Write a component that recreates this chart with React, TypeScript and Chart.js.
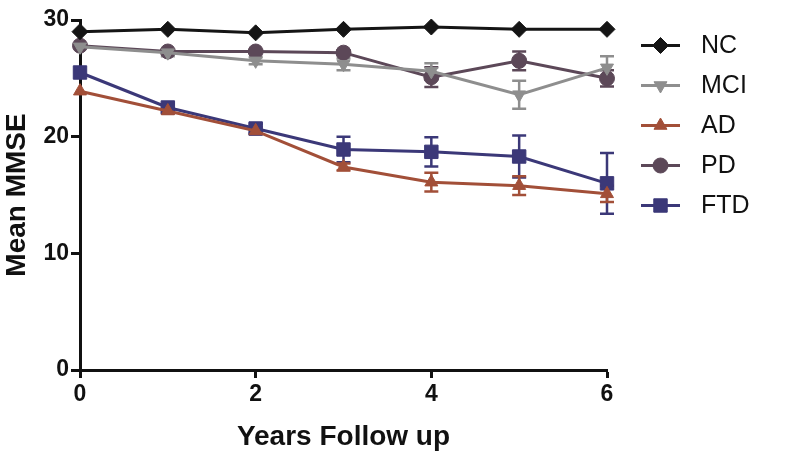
import React, { useEffect, useRef } from "react";
import { Chart, registerables } from "chart.js";
import { drawPoint } from "chart.js/helpers";

Chart.register(...registerables);

const YEARS = [0, 1, 2, 3, 4, 5, 6];
const LABELS = ["NC", "MCI", "AD", "PD", "FTD"];
const NC = [29.0, 29.2, 28.9, 29.2, 29.4, 29.2, 29.2];
const MCI = [27.7, 27.2, 26.5, 26.2, 25.6, 23.6, 25.9];
const AD = [23.9, 22.2, 20.5, 17.4, 16.1, 15.8, 15.1];
const PD = [27.8, 27.3, 27.3, 27.2, 25.1, 26.5, 25.0];
const FTD = [25.5, 22.5, 20.7, 18.9, 18.7, 18.3, 16.0];

const NC_ERR = [0, 0, 0, 0, 0, 0, 0];
const MCI_ERR = [0, 0.3, 0.3, 0.5, 0.7, 1.2, 1.0];
const AD_ERR = [0, 0.2, 0.3, 0.3, 0.8, 0.8, 0.7];
const PD_ERR = [0, 0, 0, 0.2, 0.85, 0.8, 0.7];
const FTD_ERR = [0, 0.3, 0.4, 1.1, 1.25, 1.8, 2.6];

const Y_TICKS = [0, 10, 20, 30];
const X_TICKS = [0, 2, 4, 6];

const FONT = "'Liberation Sans', Arial, Helvetica, sans-serif";
const COLORS = ["#151515", "#8e8e8e", "#a24f38", "#5c4858", "#3b3878"];
const STYLES = [
  { pointStyle: "rectRot", radius: 8, rotation: 0 },
  { pointStyle: "triangle", radius: 7.5, rotation: 180 },
  { pointStyle: "triangle", radius: 7.5, rotation: 0 },
  { pointStyle: "circle", radius: 7.5, rotation: 0 },
  { pointStyle: "rect", radius: 9.5, rotation: 0 },
];
const SERIES = [NC, MCI, AD, PD, FTD];
const ERRORS = [NC_ERR, MCI_ERR, AD_ERR, PD_ERR, FTD_ERR];

const errorBarPlugin = {
  id: "errorBars",
  beforeDatasetsDraw(chart: any) {
    const ctx = chart.ctx;
    const xs = chart.scales.x;
    const ys = chart.scales.y;
    ctx.save();
    for (let i = SERIES.length - 1; i >= 0; i--) {
      const vals = SERIES[i];
      const errs = ERRORS[i];
      ctx.strokeStyle = COLORS[i];
      ctx.lineWidth = 2.5;
      for (let j = 0; j < vals.length; j++) {
        const e = errs[j];
        if (!e) continue;
        const px = xs.getPixelForValue(YEARS[j]);
        const top = ys.getPixelForValue(vals[j] + e);
        const bot = ys.getPixelForValue(vals[j] - e);
        ctx.beginPath();
        ctx.moveTo(px, top);
        ctx.lineTo(px, bot);
        ctx.moveTo(px - 7, top);
        ctx.lineTo(px + 7, top);
        ctx.moveTo(px - 7, bot);
        ctx.lineTo(px + 7, bot);
        ctx.stroke();
      }
    }
    ctx.restore();
  },
};

const legendPlugin = {
  id: "customLegend",
  afterDraw(chart: any) {
    const ctx = chart.ctx;
    ctx.save();
    chart.data.datasets.forEach((ds: any, i: number) => {
      const cy = 45.5 + i * 40;
      ctx.strokeStyle = COLORS[i];
      ctx.fillStyle = COLORS[i];
      ctx.lineWidth = 3;
      ctx.beginPath();
      ctx.moveTo(641, cy);
      ctx.lineTo(680, cy);
      ctx.stroke();
      ctx.lineWidth = 1;
      drawPoint(
        ctx,
        {
          pointStyle: STYLES[i].pointStyle,
          rotation: STYLES[i].rotation,
          radius: STYLES[i].radius,
          borderWidth: 1,
        } as any,
        660.5,
        cy
      );
      ctx.fillStyle = "#111";
      ctx.font = `25px ${FONT}`;
      ctx.textBaseline = "middle";
      ctx.textAlign = "left";
      ctx.fillText(ds.label, 701, cy + 1);
    });
    ctx.restore();
  },
};

export default function App() {
  const ref = useRef<HTMLCanvasElement>(null);
  useEffect(() => {
    if (!ref.current) return;
    const datasets = SERIES.map((vals, i) => ({
      label: LABELS[i],
      data: vals.map((v, j) => ({ x: YEARS[j], y: v })),
      borderColor: COLORS[i],
      backgroundColor: COLORS[i],
      borderWidth: 3,
      pointStyle: STYLES[i].pointStyle,
      pointRotation: STYLES[i].rotation,
      pointRadius: STYLES[i].radius,
      pointHoverRadius: STYLES[i].radius,
      pointBorderWidth: 1,
      pointBackgroundColor: COLORS[i],
      pointBorderColor: COLORS[i],
      tension: 0,
      clip: false as any,
    }));
    const chart = new Chart(ref.current, {
      type: "line",
      data: { datasets },
      plugins: [errorBarPlugin, legendPlugin],
      options: {
        animation: false,
        responsive: false,
        maintainAspectRatio: false,
        layout: { padding: { left: 0, right: 193, top: 20, bottom: 0 } },
        plugins: { legend: { display: false }, tooltip: { enabled: false } },
        scales: {
          x: {
            type: "linear",
            min: 0,
            max: 6,
            afterBuildTicks: (s: any) => {
              s.ticks = X_TICKS.map((v) => ({ value: v }));
            },
            afterFit: (s: any) => {
              s.height = 84;
            },
            ticks: {
              color: "#111",
              padding: 3,
              font: { family: FONT, size: 23, weight: "bold" },
              maxRotation: 0,
            },
            grid: {
              drawOnChartArea: false,
              drawTicks: true,
              tickLength: 8,
              tickColor: "#111",
              tickWidth: 3,
              color: "#111",
            },
            border: { display: true, color: "#111", width: 3 },
            title: {
              display: true,
              text: "Years Follow up",
              color: "#111",
              font: { family: FONT, size: 28, weight: "bold" },
              padding: { top: 0, bottom: 0 },
            },
          } as any,
          y: {
            type: "linear",
            min: 0,
            max: 30,
            afterBuildTicks: (s: any) => {
              s.ticks = Y_TICKS.map((v) => ({ value: v }));
            },
            afterFit: (s: any) => {
              s.width = 80;
            },
            ticks: {
              color: "#111",
              padding: 2,
              font: { family: FONT, size: 23, weight: "bold" },
            },
            grid: {
              drawOnChartArea: false,
              drawTicks: true,
              tickLength: 9,
              tickColor: "#111",
              tickWidth: 3,
              color: "#111",
            },
            border: { display: true, color: "#111", width: 3 },
            title: {
              display: true,
              text: "Mean MMSE",
              color: "#111",
              font: { family: FONT, size: 28, weight: "bold" },
              padding: { top: 0, bottom: 0 },
            },
          } as any,
        },
      },
    });
    return () => chart.destroy();
  }, []);
  return (
    <div style={{ position: "fixed", left: 0, top: 0, width: 800, height: 454, background: "#fff" }}>
      <canvas ref={ref} width={800} height={454} style={{ width: 800, height: 454 }} />
    </div>
  );
}
